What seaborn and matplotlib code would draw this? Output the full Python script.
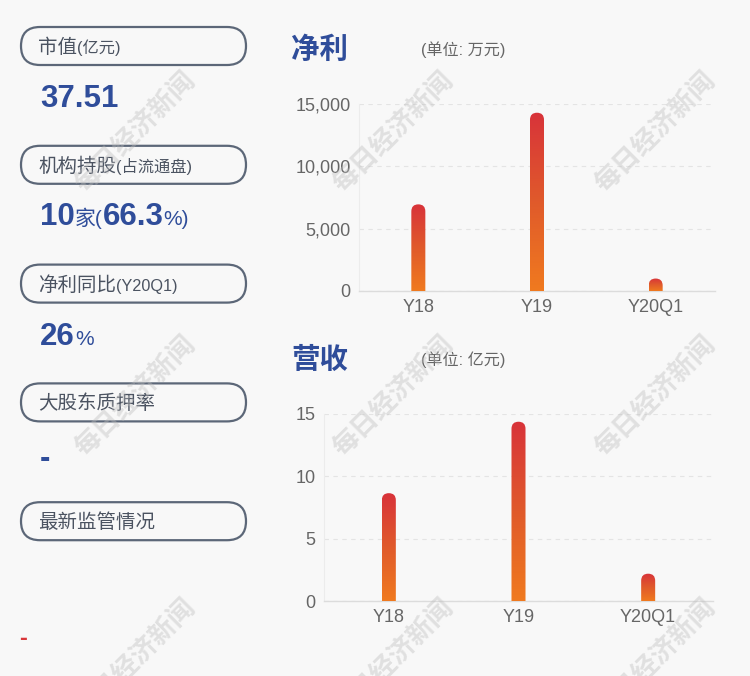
import numpy as np
import pandas as pd
import matplotlib
matplotlib.use('Agg')
import matplotlib.pyplot as plt
import seaborn as sns
from matplotlib.patches import FancyBboxPatch
from matplotlib.colors import LinearSegmentedColormap
from matplotlib.ticker import FixedLocator, FixedFormatter

# ---------------- data ----------------
categories = ['Y18', 'Y19', 'Y20Q1']
net_profit = [6950, 14300, 1000]          # 万元
revenue = [8.65, 14.38, 2.19]             # 亿元
profit_ticks = [0, 5000, 10000, 15000]
profit_tick_labels = ['0', '5,000', '10,000', '15,000']
revenue_ticks = [0, 5, 10, 15]
revenue_tick_labels = ['0', '5', '10', '15']

box_titles = ['市值', '机构持股', '净利同比', '大股东质押率', '最新监管情况']
box_subtitles = ['(亿元)', '(占流通盘)', '(Y20Q1)', '', '']
value_parts = [
    [('37.51', 'big')],
    [('10', 'big'), ('家(', 'small'), ('66.3', 'big'), ('%)', 'small')],
    [('26', 'big'), ('%', 'small')],
    [('-', 'big')],
    [],
]
chart_titles = ['净利', '营收']
chart_units = ['(单位: 万元)', '(单位: 亿元)']
watermark = '每日经济新闻'

# ---------------- style ----------------
sns.set_style('white')
plt.rcParams['font.family'] = ['Liberation Sans', 'Noto Sans CJK SC', 'DejaVu Sans']

BG = '#f8f8f8'
BLUE = '#2f4d9a'
GREY_TXT = '#666666'
LABEL_TXT = '#4b5361'
BOX_EDGE = '#5c6778'

fig = plt.figure(figsize=(7.5, 6.76), dpi=100, facecolor=BG)
bg = fig.add_axes([0, 0, 1, 1])
bg.set_xlim(0, 750)
bg.set_ylim(676, 0)
bg.axis('off')
bg.set_facecolor(BG)
renderer = fig.canvas.get_renderer()

# ---------------- left panel ----------------
box_top0 = 27
box_step = 118.8
box_h = 38
for i, (t, s) in enumerate(zip(box_titles, box_subtitles)):
    top = box_top0 + i * box_step
    bg.add_patch(FancyBboxPatch((21, top), 225, box_h,
                                boxstyle=f'round,pad=0,rounding_size={box_h/2}',
                                facecolor='none', edgecolor=BOX_EDGE, lw=1.6))
    base = top + box_h / 2 + 7
    tx = bg.text(38, base, t, fontsize=14, color=LABEL_TXT, va='baseline', ha='left')
    if s:
        x1 = tx.get_window_extent(renderer).x1
        bg.text(x1, base, s, fontsize=11.7, color=LABEL_TXT, va='baseline', ha='left')

value_baselines = [107, 225, 345, 467]
for parts, base in zip(value_parts, value_baselines):
    x = 40
    for txt, kind in parts:
        if kind == 'big':
            t = bg.text(x, base, txt, fontsize=22.5, fontweight='bold', color=BLUE,
                        va='baseline', ha='left')
        else:
            t = bg.text(x, base, txt, fontsize=15, color=BLUE, va='baseline', ha='left')
        x = t.get_window_extent(renderer).x1

bg.text(19, 645, '-', fontsize=17, fontweight='bold', color='#d9363a',
        va='baseline', ha='left')

# chart titles
for title, unit, yc in zip(chart_titles, chart_units, [50, 360]):
    bg.text(291, yc, title, fontsize=20.5, fontweight='bold', color=BLUE, va='center', ha='left')
    bg.text(421, yc, unit, fontsize=11.6, color=GREY_TXT, va='center', ha='left')

# ---------------- charts ----------------
cmap = LinearSegmentedColormap.from_list('grad', ['#f07a1f', '#e05a2b', '#d8333a'])
grad = np.linspace(0, 1, 256).reshape(-1, 1)


def draw_chart(rect, values, ticks, tick_labels):
    ax = fig.add_axes(rect)
    ax.set_facecolor('none')
    df = pd.DataFrame({'cat': categories, 'val': values})
    sns.barplot(data=df, x='cat', y='val', order=categories, ax=ax,
                width=0.118 if rect[2] < 0.5 else 0.108, color='#e05a2b')
    ax.set_xlim(-0.5, 2.5)
    ax.set_ylim(ticks[0], ticks[-1])
    ax.set_xlabel('')
    ax.set_ylabel('')
    pos = ax.get_position()
    wpx = pos.width * fig.get_figwidth() * fig.dpi
    hpx = pos.height * fig.get_figheight() * fig.dpi
    aspect = ((ticks[-1] - ticks[0]) / hpx) / (3.0 / wpx)
    for p in list(ax.patches):
        x, w, h = p.get_x(), p.get_width(), p.get_height()
        p.set_visible(False)
        r = w / 2
        clip = FancyBboxPatch((x, -r * aspect), w, h + r * aspect,
                              boxstyle=f'round,pad=0,rounding_size={r}',
                              mutation_aspect=aspect, facecolor='none',
                              edgecolor='none', transform=ax.transData)
        ax.add_patch(clip)
        img = ax.imshow(grad, extent=[x, x + w, 0, h], origin='lower', aspect='auto',
                        cmap=cmap, interpolation='bicubic', zorder=3)
        img.set_clip_path(clip)
    ax.set_xlim(-0.5, 2.5)
    ax.set_ylim(ticks[0], ticks[-1])
    ax.yaxis.set_major_locator(FixedLocator(ticks))
    ax.yaxis.set_major_formatter(FixedFormatter(tick_labels))
    ax.yaxis.grid(True, linestyle=(0, (4, 4)), color='#e4e4e4', lw=0.8)
    ax.set_axisbelow(True)
    for sp in ['top', 'right']:
        ax.spines[sp].set_visible(False)
    ax.spines['bottom'].set_color('#dcdcdc')
    ax.spines['bottom'].set_linewidth(1.0)
    ax.spines['left'].set_color('#ececec')
    ax.spines['left'].set_linewidth(0.8)
    ax.tick_params(axis='both', length=0, labelsize=13, labelcolor=GREY_TXT)
    ax.tick_params(axis='y', pad=6)
    ax.tick_params(axis='x', pad=6)
    return ax


ax1 = draw_chart([359 / 750, 1 - 291 / 676, 356 / 750, 187 / 676],
                 net_profit, profit_ticks, profit_tick_labels)
ax2 = draw_chart([324 / 750, 1 - 601 / 676, 389 / 750, 187 / 676],
                 revenue, revenue_ticks, revenue_tick_labels)

# ---------------- watermarks (partly cut at the bottom edge, as in the original) ----------------
wm = fig.add_axes([0, 0, 1, 1], zorder=10)
wm.set_xlim(0, 750)
wm.set_ylim(676, 0)
wm.axis('off')
wm.patch.set_alpha(0)
for yc in [132, 396, 659]:
    for xc in [135, 393, 655]:
        wm.text(xc, yc, watermark, fontsize=19, fontweight='bold', color='#bdbdbd',
                alpha=0.4, rotation=45, ha='center', va='center',
                family=['Noto Sans CJK SC'])

fig.savefig('out.png', dpi=100, facecolor=BG)
